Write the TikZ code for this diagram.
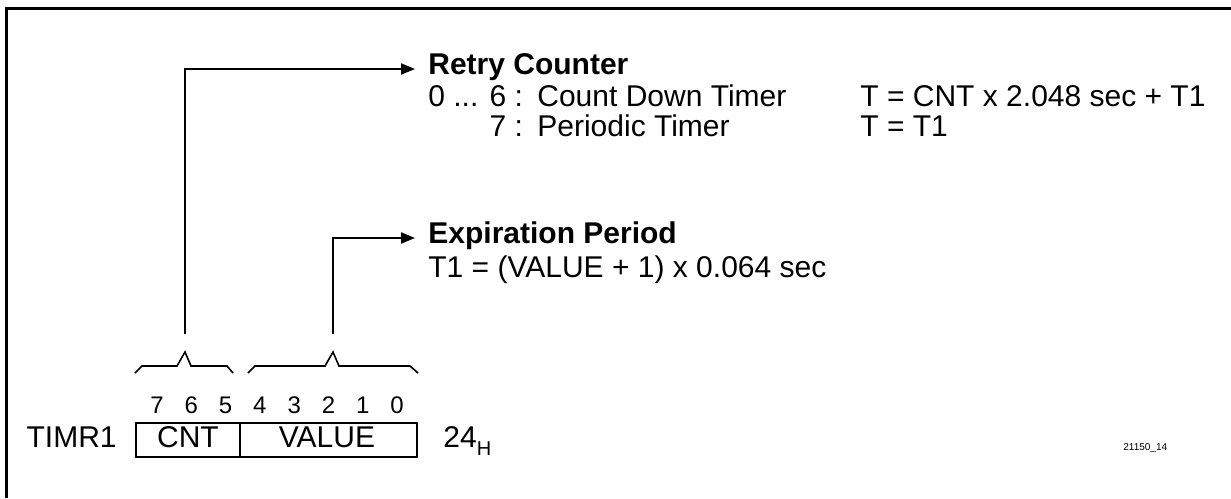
\documentclass[tikz,border=0pt]{standalone}
\usepackage{fontspec}
\setmainfont{Liberation Sans}
\usetikzlibrary{arrows.meta}
\newcommand{\bigtxt}{\fontsize{15}{18}\selectfont}
\newcommand{\bittxt}{\fontsize{12}{14}\selectfont}
\tikzset{
  txt/.style={inner sep=0pt, anchor=base west, font=\bigtxt},
  lead/.style={line width=1pt, -{Triangle[length=7pt,width=5.5pt]}, shorten >=6.5pt},
  brace/.style={line width=0.8pt},
  regbox/.style={line width=0.6pt},
}
\begin{document}
\begin{tikzpicture}[x=0.5pt, y=-0.5pt]
    \useasboundingbox (0,0) rectangle (1231,498);
    \draw[line width=1.5pt] (6,498) -- (6,8) -- (1231,8);
    % register
    \node[txt, anchor=base east] (reg) at (117,447) {TIMR1};
    \draw[regbox] (136,423) rectangle (417,457);
    \draw[regbox] (240,423) -- (240,457);
    \node[txt, anchor=base] (cnt) at (188,447) {CNT};
    \node[txt, anchor=base] (value) at (327,447) {VALUE};
    \node[txt] (addr) at (443,447) {24\raisebox{-4pt}{\fontsize{10}{10}\selectfont H}};
    \foreach \b [count=\i from 0] in {7,6,5,4,3,2,1,0}
        \node[txt, anchor=base, font=\bittxt] (bit\b) at (157+34.3*\i,413) {\b};
    % braces
    \draw[brace] (135,373) -- (142,366) -- (177,366) -- (185,352) -- (191,366) -- (227,366) -- (233,373);
    \draw[brace] (248,373) -- (255,366) -- (325,366) -- (333,352) -- (339,366) -- (410,366) -- (418,373);
    \coordinate (cnttop) at (185,334);
    \coordinate (valtop) at (333,334);
    % descriptions
    \node[txt] (retry) at (428,74) {\textbf{Retry Counter}};
    \node[txt] (rng) at (428,106) {0 ... 6 :};
    \node[txt] (cdown) at (537,106) {Count Down Timer};
    \node[txt, anchor=base east] (seven) at (rng.base east |- 0,136) {7 :};
    \node[txt] (period) at (537,136) {Periodic Timer};
    \node[txt] (tcnt) at (860,106) {T = CNT x 2.048 sec + T1};
    \node[txt] (tone) at (860,136) {T = T1};
    \node[txt] (expir) at (428,243) {\textbf{Expiration Period}};
    \node[txt] (tval) at (428,277) {T1 = (VALUE + 1) x 0.064 sec};
    \node[txt, font=\fontsize{5}{6}\selectfont] (fig) at (1123,450) {21150\_14};
    % leaders
    \draw[lead] (cnttop) |- ([yshift=2.5pt]retry.base west);
    \draw[lead] (valtop) |- ([yshift=2.5pt]expir.base west);
\end{tikzpicture}
\end{document}
